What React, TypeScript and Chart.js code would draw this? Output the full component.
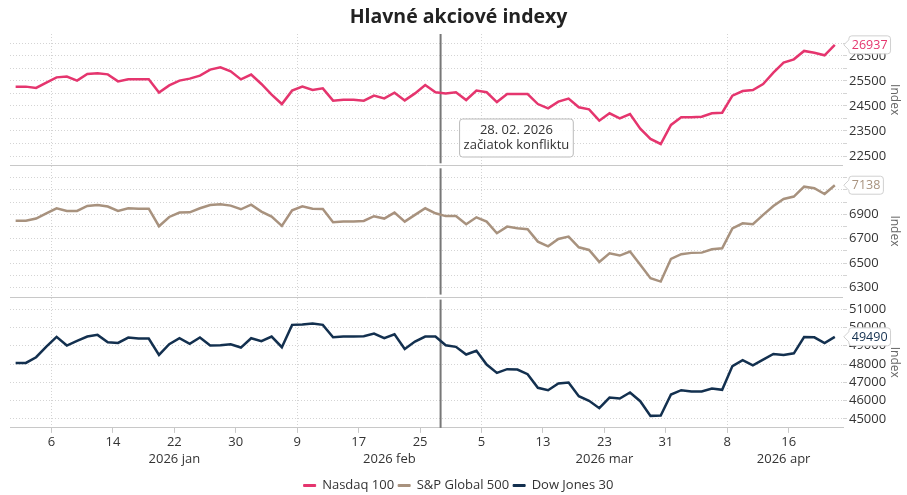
import React, { useEffect, useRef } from 'react';
import { Chart, registerables } from 'chart.js';

Chart.register(...registerables);

const FONT = "'Open Sans', 'Noto Sans', sans-serif";

// ---------- data ----------
const firstDay = '2026-01-01';
const lastDay = '2026-04-23';

const seriesNames = ['Nasdaq 100', 'S&P Global 500', 'Dow Jones 30'];
const seriesColors = ['#e5356e', '#a8927e', '#13304f'];

const nasdaq = [
  25270, 25270, 25220, 25430, 25640, 25670, 25510, 25775, 25800, 25760,
  25480, 25560, 25560, 25560, 25030, 25320, 25510, 25590, 25710, 25950,
  26040, 25880, 25560, 25750, 25375, 24950, 24575, 25110, 25270, 25135,
  25200, 24710, 24750, 24750, 24710, 24910, 24800, 25030, 24720, 25000,
  25335, 25045, 25000, 25045, 24735, 25110, 25045, 24655, 24975, 24975,
  24975, 24575, 24405, 24670, 24790, 24445, 24365, 23910, 24205, 24005,
  24175, 23590, 23180, 22980, 23740, 24045, 24045, 24070, 24205, 24230,
  24910, 25095, 25135, 25375, 25830, 26230, 26360, 26695, 26625, 26520,
  26937,
];

const sp500 = [
  6848, 6848, 6865, 6908, 6949, 6927, 6927, 6968, 6976, 6963,
  6927, 6949, 6946, 6946, 6802, 6878, 6914, 6916, 6949, 6976,
  6982, 6971, 6941, 6979, 6922, 6881, 6805, 6933, 6965, 6946,
  6944, 6835, 6840, 6840, 6845, 6884, 6865, 6914, 6840, 6895,
  6949, 6908, 6885, 6886, 6818, 6875, 6840, 6745, 6799, 6785,
  6777, 6676, 6638, 6698, 6717, 6630, 6608, 6510, 6581, 6562,
  6595, 6486, 6376, 6349, 6535, 6573, 6584, 6586, 6614, 6622,
  6785, 6826, 6818, 6895, 6968, 7025, 7045, 7126, 7113, 7066,
  7138,
];

const dow = [
  48063, 48063, 48373, 48957, 49486, 49012, 49267, 49504, 49596, 49194,
  49158, 49450, 49395, 49395, 48501, 49085, 49413, 49103, 49450, 49012,
  49030, 49085, 48902, 49413, 49249, 49504, 48921, 50143, 50161, 50216,
  50143, 49468, 49504, 49504, 49523, 49668, 49413, 49632, 48829, 49231,
  49504, 49504, 49030, 48942, 48523, 48723, 47975, 47519, 47720, 47702,
  47446, 46699, 46571, 46936, 46990, 46243, 45987, 45586, 46170, 46115,
  46443, 45969, 45166, 45185, 46334, 46571, 46498, 46498, 46662, 46589,
  47890, 48218, 47926, 48237, 48548, 48493, 48585, 49481, 49463, 49152,
  49490,
];

const tickDates = [
  '2026-01-06', '2026-01-14', '2026-01-22', '2026-01-30',
  '2026-02-09', '2026-02-17', '2026-02-25',
  '2026-03-05', '2026-03-13', '2026-03-23', '2026-03-31',
  '2026-04-08', '2026-04-16',
];
const monthNames = ['jan', 'feb', 'mar', 'apr', 'máj', 'jún', 'júl', 'aug', 'sep', 'okt', 'nov', 'dec'];

const eventDate = '2026-02-28';
const eventText = ['28. 02. 2026', 'začiatok konfliktu'];

const nasdaqGrid = [22500, 23000, 23500, 24000, 24500, 25000, 25500, 26000, 26500, 27000];
const nasdaqLabels = [22500, 23500, 24500, 25500, 26500];
const spGrid = [6300, 6400, 6500, 6600, 6700, 6800, 6900, 7000, 7100, 7200];
const spLabels = [6300, 6500, 6700, 6900, 7100];
const dowGrid = [45000, 46000, 47000, 48000, 49000, 50000, 51000];
const dowLabels = [45000, 46000, 47000, 48000, 49000, 50000, 51000];

const nasdaqRange = [22129, 27371];
const spRange = [6226, 7301];
const dowRange = [44508, 51689];

// ---------- helpers ----------
function weekdaysBetween(start: string, end: string): string[] {
  const out: string[] = [];
  const d = new Date(start + 'T00:00:00Z');
  const e = new Date(end + 'T00:00:00Z');
  while (d <= e) {
    const wd = d.getUTCDay();
    if (wd !== 0 && wd !== 6) out.push(d.toISOString().slice(0, 10));
    d.setUTCDate(d.getUTCDate() + 1);
  }
  return out;
}

const dates = weekdaysBetween(firstDay, lastDay);
const tickPos = tickDates.map((d) => dates.indexOf(d) + 0.5);
const tickText = tickDates.map((d) => String(Number(d.slice(8, 10))));
const monthStartIdx: number[] = [];
tickDates.forEach((d, i) => {
  if (i === 0 || tickDates[i - 1].slice(5, 7) !== d.slice(5, 7)) monthStartIdx.push(i);
});
const monthStartPos = monthStartIdx.map((i) => tickPos[i]);
const endPos = dates.length - 0.5;
const monthLabelPos = monthStartPos.map((p, k) => (p + (k + 1 < monthStartPos.length ? monthStartPos[k + 1] : endPos)) / 2);
const monthLabelText = monthStartIdx.map((i) => tickDates[i].slice(0, 4) + ' ' + monthNames[Number(tickDates[i].slice(5, 7)) - 1]);
const eventPos = (() => {
  let idx = 0;
  dates.forEach((d, i) => { if (d <= eventDate) idx = i; });
  return idx + 0.5;
})();

const X_MIN = -0.55;
const X_MAX = 80.8;

const near = (a: number, b: number) => Math.abs(a - b) < 1e-6;

function yScale(range: number[], grid: number[], labels: number[]) {
  return {
    type: 'linear',
    position: 'right',
    stack: 'panels',
    stackWeight: 1,
    min: range[0],
    max: range[1],
    bounds: 'data',
    afterBuildTicks: (s: any) => { s.ticks = grid.map((v) => ({ value: v })); },
    afterFit: (s: any) => { s.width = 64; },
    ticks: {
      autoSkip: false,
      padding: 2,
      color: '#333',
      font: { family: FONT, size: 13 },
      callback: (v: number) => (labels.some((l) => near(l, v)) ? String(v) : ''),
    },
    grid: { color: '#d4d4d4', lineWidth: 1, tickLength: 4, tickColor: '#d4d4d4' },
    border: { display: false, dash: [1, 2] },
    title: {
      display: true,
      text: 'Index',
      color: '#666',
      font: { family: FONT, size: 12 },
      padding: { top: 5, bottom: 0 },
    },
  };
}

function drawCallout(ctx: CanvasRenderingContext2D, tipX: number, y: number, text: string, color: string) {
  ctx.save();
  ctx.font = `12.5px ${FONT}`;
  const tw = ctx.measureText(text).width;
  const h = 18, r = 3, w = tw + 6;
  const bx = tipX + 5, by = y - h / 2;
  ctx.beginPath();
  ctx.moveTo(bx + r, by);
  ctx.lineTo(bx + w - r, by);
  ctx.arcTo(bx + w, by, bx + w, by + r, r);
  ctx.lineTo(bx + w, by + h - r);
  ctx.arcTo(bx + w, by + h, bx + w - r, by + h, r);
  ctx.lineTo(bx + r, by + h);
  ctx.arcTo(bx, by + h, bx, by + h - r, r);
  ctx.lineTo(bx, y + 5);
  ctx.lineTo(tipX, y);
  ctx.lineTo(bx, y - 5);
  ctx.lineTo(bx, by + r);
  ctx.arcTo(bx, by, bx + r, by, r);
  ctx.closePath();
  ctx.fillStyle = '#ffffff';
  ctx.fill();
  ctx.lineWidth = 1;
  ctx.strokeStyle = '#d0d0d0';
  ctx.stroke();
  ctx.fillStyle = color;
  ctx.textAlign = 'left';
  ctx.textBaseline = 'middle';
  ctx.fillText(text, bx + 3, y + 0.5);
  ctx.restore();
}

const decorPlugin = {
  id: 'decor',
  beforeDatasetsDraw(chart: any) {
    const { ctx, chartArea } = chart;
    const ids = ['y1', 'y2', 'y3'];
    ctx.save();
    // panel separators
    ctx.strokeStyle = '#c8c8c8';
    ctx.lineWidth = 1;
    ['y1', 'y2'].forEach((id) => {
      const s = chart.scales[id];
      const yy = Math.round(s.bottom) + 0.5;
      ctx.beginPath();
      ctx.moveTo(chartArea.left, yy);
      ctx.lineTo(chartArea.right, yy);
      ctx.stroke();
    });
    // event line
    const ex = chart.scales.x.getPixelForValue(eventPos);
    ctx.strokeStyle = '#777';
    ctx.lineWidth = 2;
    ids.forEach((id, i) => {
      const s = chart.scales[id];
      ctx.beginPath();
      ctx.moveTo(ex, s.top + (i === 0 ? 0 : 3));
      ctx.lineTo(ex, s.bottom - (i < 2 ? 2 : 0));
      ctx.stroke();
    });
    ctx.restore();
  },
  afterDraw(chart: any) {
    const { ctx } = chart;
    // annotation
    const ex = chart.scales.x.getPixelForValue(eventPos);
    const s1 = chart.scales.y1;
    ctx.save();
    ctx.font = `13px ${FONT}`;
    const tw = Math.max(...eventText.map((t) => ctx.measureText(t).width));
    const bw = tw + 8, bh = 38, r = 3;
    const bx = ex + 19, by = s1.top + 85;
    ctx.beginPath();
    ctx.moveTo(bx + r, by);
    ctx.arcTo(bx + bw, by, bx + bw, by + bh, r);
    ctx.arcTo(bx + bw, by + bh, bx, by + bh, r);
    ctx.arcTo(bx, by + bh, bx, by, r);
    ctx.arcTo(bx, by, bx + bw, by, r);
    ctx.closePath();
    ctx.fillStyle = 'rgba(255,255,255,0.9)';
    ctx.fill();
    ctx.strokeStyle = '#bbbbbb';
    ctx.lineWidth = 1;
    ctx.stroke();
    ctx.fillStyle = '#333';
    ctx.textAlign = 'center';
    ctx.textBaseline = 'middle';
    ctx.fillText(eventText[0], bx + bw / 2, by + 11.5);
    ctx.fillText(eventText[1], bx + bw / 2, by + 26.5);
    ctx.restore();
    // last value callouts
    chart.data.datasets.forEach((ds: any, i: number) => {
      const meta = chart.getDatasetMeta(i);
      const pt = meta.data[meta.data.length - 1];
      const last = ds.data[ds.data.length - 1].y;
      drawCallout(ctx, pt.x + 9, pt.y, String(last), seriesColors[i]);
    });
  },
};

export default function App() {
  const ref = useRef<HTMLCanvasElement | null>(null);
  useEffect(() => {
    if (!ref.current) return;
    const series = [nasdaq, sp500, dow];
    const chart = new Chart(ref.current, {
      type: 'line',
      data: {
        datasets: series.map((vals, i) => ({
          label: seriesNames[i],
          data: vals.map((v, k) => ({ x: k, y: v })),
          borderColor: seriesColors[i],
          backgroundColor: seriesColors[i],
          borderWidth: 2.5,
          pointRadius: 0,
          tension: 0,
          xAxisID: 'x',
          yAxisID: ['y1', 'y2', 'y3'][i],
        })),
      },
      options: {
        responsive: false,
        animation: false,
        events: [],
        layout: { padding: { left: 10, right: 0, top: 0, bottom: -7 } },
        plugins: {
          title: {
            display: true,
            text: 'Hlavné akciové indexy',
            color: '#222',
            font: { family: FONT, size: 19.5, weight: 'bold' },
            padding: { top: 6, bottom: 4.6 },
          },
          legend: {
            position: 'bottom',
            labels: {
              boxWidth: 12,
              boxHeight: 2,
              padding: 4,
              color: '#333',
              font: { family: FONT, size: 13 },
              generateLabels: (c: any) =>
                (Chart.defaults.plugins.legend.labels as any).generateLabels(c).map((l: any) => ({
                  ...l,
                  lineWidth: 1,
                  fillStyle: l.strokeStyle,
                })),
            },
          },
          tooltip: { enabled: false },
        },
        scales: {
          x: {
            type: 'linear',
            position: 'bottom',
            min: X_MIN,
            max: X_MAX,
            bounds: 'data',
            afterBuildTicks: (s: any) => { s.ticks = tickPos.map((v) => ({ value: v })); },
            ticks: {
              autoSkip: false,
              maxRotation: 0,
              padding: 2,
              color: '#333',
              font: { family: FONT, size: 13 },
              callback: (v: number) => {
                const k = tickPos.findIndex((p) => near(p, v));
                return k >= 0 ? tickText[k] : '';
              },
            },
            grid: {
              color: (c: any) => (c.tick && monthStartPos.some((p) => near(p, c.tick.value)) ? '#d4d4d4' : 'rgba(0,0,0,0)'),
              lineWidth: 1,
              tickLength: 5,
              tickColor: '#c8c8c8',
            },
            border: { display: true, color: '#c8c8c8', width: 1, dash: [1, 2] },
          },
          x2: {
            type: 'linear',
            position: 'bottom',
            min: X_MIN,
            max: X_MAX,
            bounds: 'data',
            afterBuildTicks: (s: any) => { s.ticks = monthLabelPos.map((v) => ({ value: v })); },
            ticks: {
              autoSkip: false,
              maxRotation: 0,
              padding: 0,
              color: '#333',
              font: { family: FONT, size: 13, lineHeight: 1.1 },
              callback: (v: number) => {
                const k = monthLabelPos.findIndex((p) => near(p, v));
                return k >= 0 ? monthLabelText[k] : '';
              },
            },
            title: { display: true, text: ' ', font: { size: 1 }, padding: { top: 7, bottom: 0 } },
            grid: { display: false, drawTicks: false },
            border: { display: false },
          },
          y1: yScale(nasdaqRange, nasdaqGrid, nasdaqLabels),
          y2: yScale(spRange, spGrid, spLabels),
          y3: yScale(dowRange, dowGrid, dowLabels),
        } as any,
      },
      plugins: [decorPlugin],
    } as any);
    return () => chart.destroy();
  }, []);
  return (
    <div style={{ position: 'absolute', left: 0, top: 0, width: 907, height: 495, background: '#fff' }}>
      <canvas ref={ref} width={907} height={495} style={{ display: 'block' }} />
    </div>
  );
}
